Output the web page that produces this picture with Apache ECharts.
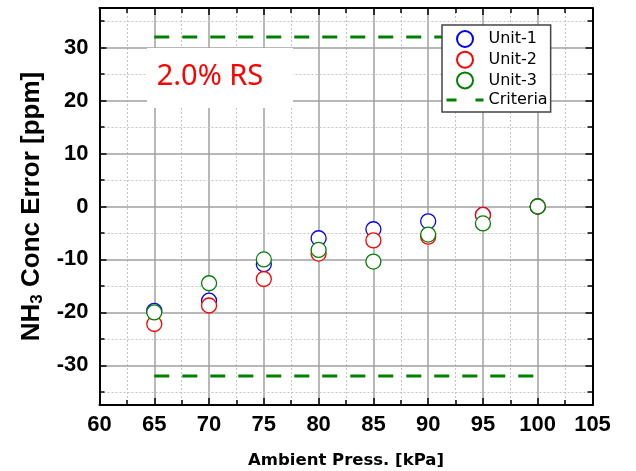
<!DOCTYPE html>
<html><head><meta charset="utf-8">
<script src="https://cdn.jsdelivr.net/npm/echarts@6/dist/echarts.min.js"></script>
<style>html,body{margin:0;padding:0;background:#fff}#c{width:636px;height:471px}</style>
</head><body><div id="c"></div>
<script>
// ---- data ----
const pressure = [65, 70, 75, 80, 85, 90, 95, 100];
const unit1 = [-19.7, -17.8, -10.9, -6.0, -4.3, -2.8, -1.6, 0];
const unit2 = [-22.2, -18.7, -13.7, -8.9, -6.4, -5.7, -1.6, 0];
const unit3 = [-20.0, -14.5, -10.0, -8.2, -10.4, -5.3, -3.2, 0];
const criteriaX = [65, 100];
const criteriaLimit = 32;
const xMin = 60, xMax = 105, xStep = 5;
const yMajorTicks = [-30, -20, -10, 0, 10, 20, 30];
const yMinorTicks = [-35, -25, -15, -5, 5, 15, 25, 35];
const yRange = [-37.5, 37.5];
const annotation = '2.0% RS';

// ---- chart ----
const pts = ys => pressure.map((x, i) => [x, ys[i]]);
const GRID_MAJOR = '#a0a0a0', GRID_MINOR = '#c4c4c4';
const labelFont = {fontFamily: 'Liberation Sans', fontWeight: 'bold', fontSize: 22, color: '#000'};

function xAxisDef(pos, main) {
  return {
    type: 'value', position: pos, min: xMin, max: xMax, interval: xStep,
    axisLine: {show: true, onZero: false, lineStyle: {color: '#000', width: 2}},
    axisTick: {show: true, inside: true, length: 7, lineStyle: {color: '#000', width: 1.5}},
    minorTick: {show: true, splitNumber: 2, length: 5, lineStyle: {color: '#000', width: 1.5}},
    axisLabel: main ? Object.assign({show: true, margin: 9}, labelFont) : {show: false},
    splitLine: {show: main, lineStyle: {color: GRID_MAJOR, width: 1.5}},
    minorSplitLine: {show: main, lineStyle: {color: GRID_MINOR, width: 1, type: [2, 2]}},
    name: main ? 'Ambient Press. [kPa]' : '',
    nameLocation: 'middle', nameGap: 47,
    nameTextStyle: {fontFamily: 'DejaVu Sans', fontWeight: 'bold', fontSize: 16.5, color: '#000'}
  };
}
function yAxisDef(pos, major, main) {
  const vals = major ? yMajorTicks : yMinorTicks;
  return {
    type: 'value', position: pos, min: yRange[0], max: yRange[1],
    splitNumber: major ? 8 : 15,
    axisLine: {show: major, onZero: false, lineStyle: {color: '#000', width: 2}},
    axisTick: {show: true, inside: true, length: major ? 7 : 5, customValues: vals,
      lineStyle: {color: '#000', width: 1.5}},
    axisLabel: (major && main) ? Object.assign({show: true, margin: 11, customValues: vals}, labelFont)
      : {show: false},
    splitLine: {show: main, lineStyle: major ? {color: GRID_MAJOR, width: 1.5}
      : {color: GRID_MINOR, width: 1, type: [2, 2]}},
    z: major ? 3 : 1,
    name: (major && main) ? '{b|NH}{s|3}{b| Conc Error [ppm]}' : '',
    nameLocation: 'middle', nameGap: 52, nameRotate: 90,
    nameTextStyle: {rich: {
      b: {fontFamily: 'Liberation Sans', fontWeight: 'bold', fontSize: 26, color: '#000'},
      s: {fontFamily: 'Liberation Sans', fontWeight: 'bold', fontSize: 17, color: '#000', padding: [10, 0, 0, 0]}
    }}
  };
}

const chart = echarts.init(document.getElementById('c'), null, {renderer: 'canvas'});
const scatterSeries = (name, data, color) => ({
  name, type: 'scatter', data: pts(data), xAxisIndex: 0, yAxisIndex: 0,
  symbol: 'circle', symbolSize: 15,
  itemStyle: {color: '#fff', borderColor: color, borderWidth: 1.3, opacity: 1},
  z: 5
});
const critStyle = {color: '#008000', width: 3, type: [15, 13]};
chart.setOption({
  animation: false,
  backgroundColor: '#fff',
  grid: {left: 99.5, right: 43.5, top: 8, bottom: 66, containLabel: false, outerBoundsMode: 'none'},
  xAxis: [xAxisDef('bottom', true), xAxisDef('top', false)],
  yAxis: [yAxisDef('left', true, true), yAxisDef('left', false, true),
          yAxisDef('right', true, false), yAxisDef('right', false, false)],
  legend: {
    orient: 'vertical', left: 442, top: 25, z: 20,
    backgroundColor: '#fff', borderColor: '#444', borderWidth: 1.5,
    padding: [5, 3, 4, 3], itemGap: 2.7, itemWidth: 37, itemHeight: 16,
    textStyle: {fontFamily: 'DejaVu Sans', fontSize: 16, color: '#000'},
    data: ['Unit-1', 'Unit-2', 'Unit-3',
      {name: 'Criteria', lineStyle: {type: [10, 19], width: 3},
        itemStyle: {color: 'transparent', borderColor: 'transparent', opacity: 0}}]
  },
  graphic: [
    {type: 'rect', x: 147, y: 48, shape: {x: 0, y: 0, width: 146, height: 60}, style: {fill: '#fff'}, z: 10},
    {type: 'text', x: 210, y: 77, z: 11,
      style: {text: annotation, fill: '#ff0000', fontFamily: 'Noto Sans', fontSize: 29,
        align: 'center', verticalAlign: 'middle'}}
  ],
  series: [
    scatterSeries('Unit-1', unit1, '#0000ff'),
    scatterSeries('Unit-2', unit2, '#ff0000'),
    scatterSeries('Unit-3', unit3, '#008000'),
    {name: 'Criteria', type: 'line', data: criteriaX.map(x => [x, criteriaLimit]),
      showSymbol: false, symbol: 'none', lineStyle: critStyle, itemStyle: {color: '#008000'}, z: 2},
    {name: 'Criteria', type: 'line', data: criteriaX.map(x => [x, -criteriaLimit]),
      showSymbol: false, symbol: 'none', lineStyle: critStyle, itemStyle: {color: '#008000'}, z: 2}
  ]
});
</script></body></html>
